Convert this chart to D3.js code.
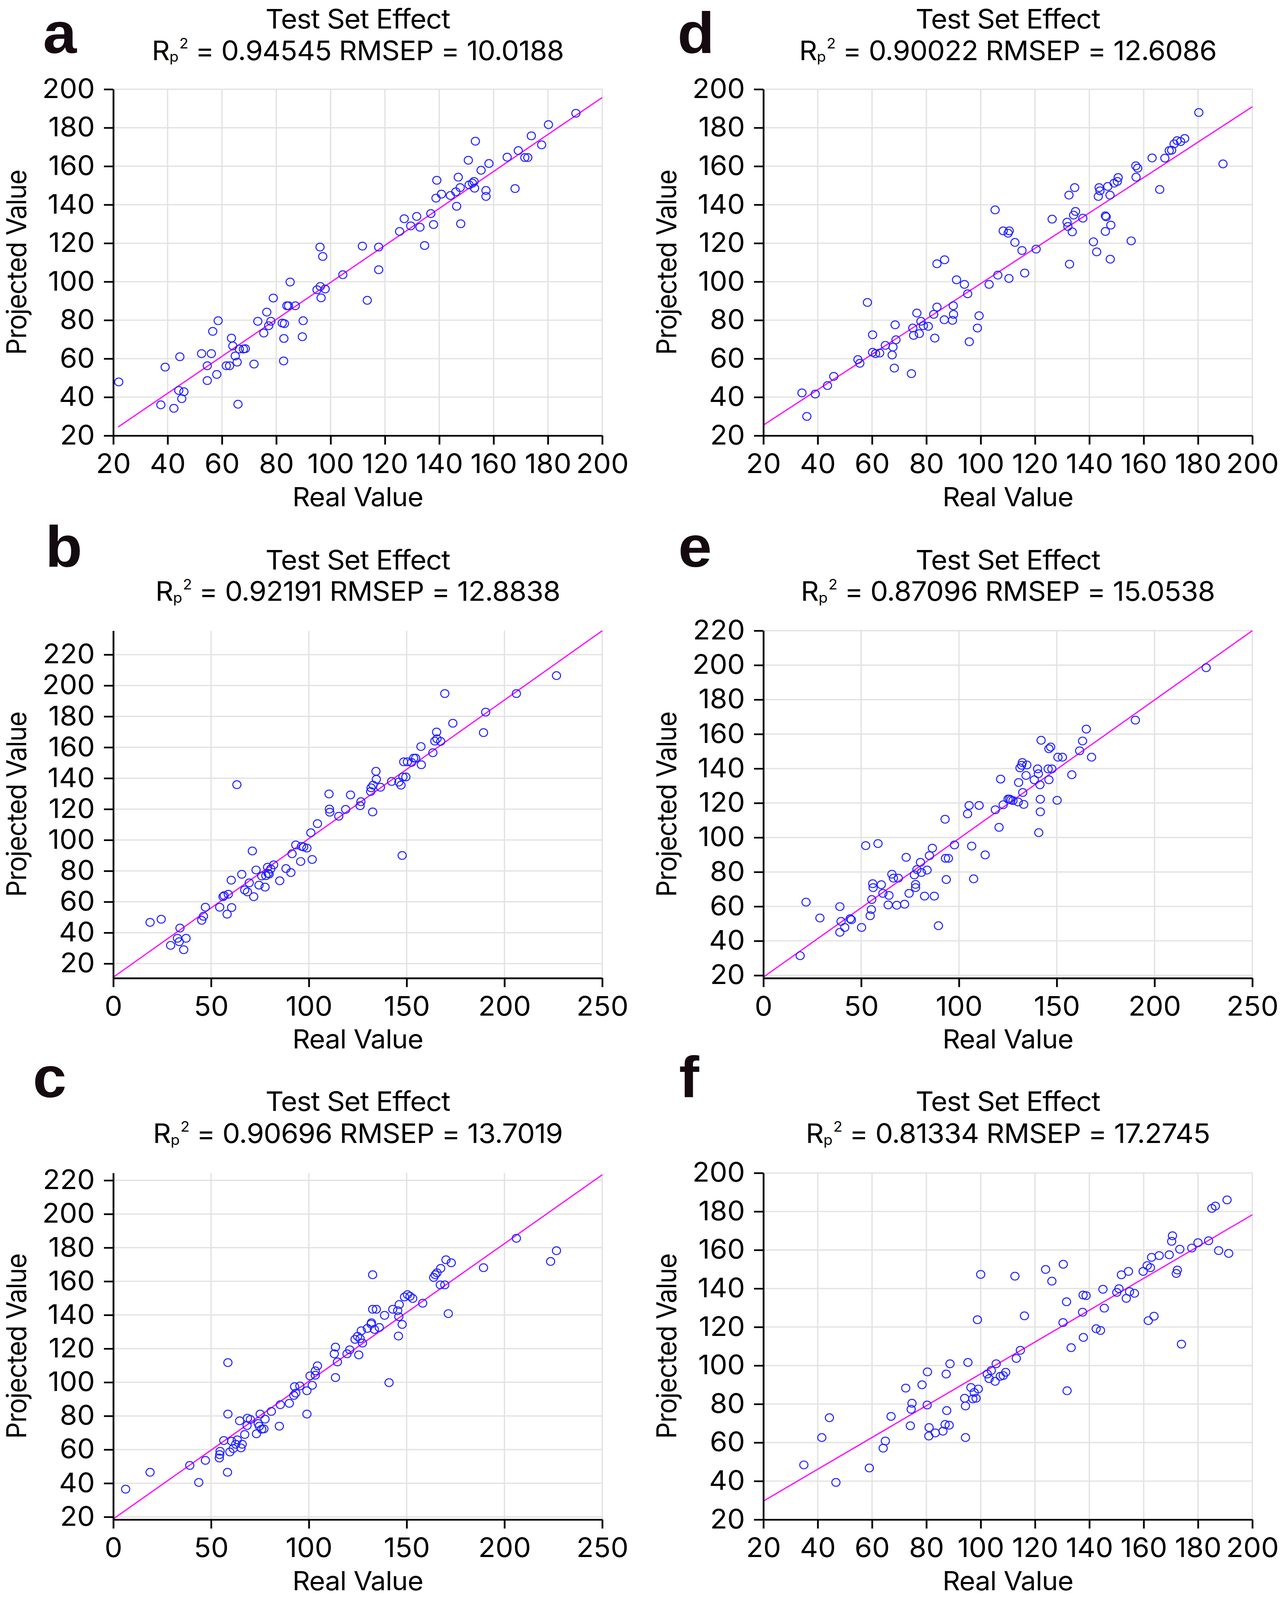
<!DOCTYPE html>
<html>
<head>
<meta charset="utf-8">
<script src="https://cdn.jsdelivr.net/npm/d3@7"></script>
<style>
html, body { margin: 0; padding: 0; background: #fff; overflow: hidden; }
svg { display: block; }
</style>
</head>
<body>
<svg id="chart"></svg>
<script>
// ── Data ───────────────────────────────────────────────────────────────

const PANEL_LETTERS = ['a', 'b', 'c', 'd', 'e', 'f'];
const PANEL_R2 = ['0.94545', '0.92191', '0.90696', '0.90022', '0.87096', '0.81334'];
const PANEL_RMSEP = ['10.0188', '12.8838', '13.7019', '12.6086', '15.0538', '17.2745'];

const TICKS_20_200 = [20, 40, 60, 80, 100, 120, 140, 160, 180, 200];
const TICKS_20_220 = [20, 40, 60, 80, 100, 120, 140, 160, 180, 200, 220];
const TICKS_0_250 = [0, 50, 100, 150, 200, 250];

const X_DOMAINS = [[20, 200], [0, 250], [0, 250], [20, 200], [0, 250], [20, 200]];
const Y_DOMAINS = [[20, 200], [10.6, 235.5], [18.4, 224.4], [20, 200], [18.4, 220], [20, 200]];
const X_TICKS = [TICKS_20_200, TICKS_0_250, TICKS_0_250, TICKS_20_200, TICKS_0_250, TICKS_20_200];
const Y_TICKS = [TICKS_20_200, TICKS_20_220, TICKS_20_220, TICKS_20_200, TICKS_20_220, TICKS_20_200];

// fitted line: [slope, intercept, first x]
const FIT_LINES = [[0.9607, 3.56, 21.8], [0.897, 11.2, 0], [0.818, 18.8, 0], [0.919, 7.1, 20], [0.804, 19, 0], [0.826, 13.1, 20]];

const A_REAL = [22, 37.5, 39.1, 42.3, 44.1, 44.5, 45.2, 46, 52.5, 54.6, 54.6, 56.1, 56.6, 58.1, 58.6, 61.6, 62.8, 63.5, 64, 64.9, 65.6, 65.9, 66.4, 67.9, 68.6, 71.8, 73.2, 75.4, 76.5, 77.2, 78, 78.9, 82.2, 82.8, 82.7, 83, 83.9, 84.5, 85.1, 87, 89.6, 89.9, 95, 96.1, 96.2, 96.5, 97.1, 98, 104.5, 111.7, 113.5, 117.7, 117.7, 125.4, 127.1, 129.5, 131.7, 132.9, 134.6, 136.9, 137.9, 138.8, 139.1, 140.8, 144.1, 146.1, 146.4, 147, 147.7, 147.9, 150.7, 151, 152.2, 152.8, 153, 153.3, 155.4, 157.2, 157.2, 158.3, 165, 167.9, 169.1, 171.5, 172.6, 173.9, 177.7, 180.2, 190.3];
const A_PROJ = [47.9, 36, 55.6, 34.2, 43.5, 61, 39.2, 42.8, 62.6, 48.6, 56.3, 62.6, 74.2, 51.8, 79.7, 56.3, 56.3, 70.7, 66.6, 61.4, 58.2, 36.3, 65, 65, 65.2, 57.2, 79.4, 73.3, 84.2, 77.1, 79.4, 91.5, 78.5, 70.5, 58.8, 78.2, 87.5, 87.5, 99.8, 87.5, 71.4, 79.7, 95.8, 118, 97.5, 91.6, 113.1, 96.2, 103.6, 118.5, 90.3, 118, 106.2, 126.1, 132.7, 129, 133.9, 128.3, 118.8, 135.4, 129.7, 143.4, 152.7, 145.5, 144.8, 146.7, 139.2, 154.3, 148.9, 130.1, 163.1, 150.3, 151.2, 152.1, 148.6, 173, 157.9, 147.4, 144.3, 161.4, 164.7, 148.4, 168.1, 164.5, 164.5, 175.8, 171.1, 181.6, 187.5];

const B_REAL = [18.8, 24.5, 29.3, 32.8, 34.1, 33.7, 36, 37.2, 45.2, 46.1, 47.1, 54.4, 56.1, 56.7, 58.2, 58.8, 60.3, 60.5, 63.2, 65.7, 67.2, 68.6, 69.5, 71.1, 71.8, 73, 74.5, 75.9, 77.6, 78, 79.1, 79.7, 78.9, 80.5, 82, 85.1, 88.3, 90.8, 91.4, 93.3, 95.8, 96.2, 97.3, 99, 101.7, 101, 104.4, 110.3, 110.5, 110.7, 115.3, 118.8, 121.3, 126.2, 126.6, 131.6, 131.8, 132.6, 132.8, 134.5, 134.3, 136.6, 142.3, 146, 147.1, 148.1, 149.6, 147.7, 148.5, 150.4, 152.5, 153.6, 154.6, 157.5, 157.3, 163.4, 164.4, 165.3, 165.5, 167.4, 169.5, 173.6, 189.3, 190.4, 206.1, 226.6];
const B_PROJ = [46.7, 48.7, 31.8, 36.4, 43, 34.2, 29, 36.4, 48, 50.6, 56.5, 56.5, 63.3, 64, 52, 64.9, 74, 56.3, 135.8, 77.8, 67.7, 66.4, 72.3, 92.9, 63.3, 80.6, 70.8, 76.7, 69.5, 76.9, 78.4, 78, 82.4, 81.3, 83.9, 73.6, 81.5, 78.9, 91.1, 96.8, 86.1, 95.9, 95.5, 94.8, 87.4, 104.7, 110.6, 129.8, 120, 118, 115.4, 119.8, 129.2, 122.2, 124.8, 131.4, 133.8, 118.2, 135.5, 139.3, 144.5, 134.2, 137.9, 137.5, 135.5, 140.8, 140.8, 90, 150.6, 150.6, 150.2, 153, 153, 148.7, 160.5, 156.5, 164, 169.9, 165.5, 163.8, 194.8, 175.6, 169.5, 182.8, 194.8, 206.4];

const C_REAL = [6.3, 18.8, 39.1, 43.7, 47.1, 54.2, 54.4, 54.6, 56.5, 58.4, 58.6, 58.6, 59.6, 60.5, 61.3, 62.6, 63.4, 64.6, 65.3, 65.9, 67.2, 68.4, 68.6, 70.1, 73.2, 74.1, 74.7, 75.1, 75.9, 77, 77.6, 80.8, 84.9, 85.4, 90, 92.3, 92.7, 93.3, 95.4, 99, 99, 101.7, 100.6, 103.3, 103.3, 104.4, 113, 113.6, 113.6, 114.6, 119.5, 120.9, 123.6, 124.9, 125.5, 126.2, 126.8, 127.4, 129.9, 131.8, 132, 132.6, 132.6, 133.5, 134.5, 136, 138.7, 141, 142.9, 145.4, 145.8, 146.2, 146, 147.7, 148.9, 150.4, 151.7, 153.1, 158.2, 163.8, 164.6, 165.5, 167.4, 167.2, 169.5, 170.1, 171.3, 172.8, 189.3, 206.1, 223.6, 226.6];
const C_PROJ = [36.5, 46.5, 50.6, 40.5, 53.6, 55, 57, 59, 65.4, 46.5, 81.1, 111.7, 58.6, 65, 60.6, 63.2, 65.8, 77.1, 61, 63.2, 69, 74.3, 78.7, 77.9, 69.4, 75.5, 73.9, 81.1, 72.1, 72.3, 78.1, 82.7, 73.9, 86.7, 87.5, 92.2, 97.4, 93.6, 97.8, 81.1, 95, 98.2, 103.8, 104.2, 106.8, 109.8, 116.9, 120.9, 102.8, 112.1, 116.9, 119.3, 125.5, 127.3, 116.3, 125.9, 130.6, 123.3, 132, 134.6, 135.4, 163.9, 143.4, 131.4, 143.4, 132.6, 139.8, 99.8, 143.4, 142.6, 127.5, 146.2, 139, 134.4, 150.7, 152.1, 151.1, 149.8, 147, 162.3, 163.9, 165.1, 167.7, 157.9, 157.9, 172.8, 140.8, 171, 168.1, 185.6, 171.8, 178.2];

const D_REAL = [34.2, 36, 39.1, 43.6, 45.9, 54.8, 55.5, 58.3, 60.2, 60.2, 61.3, 62.8, 64.9, 67.4, 67.7, 68.2, 68.5, 68.8, 74.5, 75, 75.3, 76.5, 77.4, 78, 78.9, 80.7, 82.7, 83.1, 83.9, 83.9, 86.6, 86.7, 89.6, 89.9, 90, 91.1, 94, 95.2, 95.8, 98.8, 99.4, 103.1, 105.3, 106.3, 108.3, 110.1, 110.5, 110.4, 112.6, 115.2, 116.2, 120.4, 126.3, 131.8, 132.1, 132.5, 132.7, 133.7, 134.2, 134.6, 134.9, 137.6, 141.5, 142.7, 143.3, 143.6, 143.9, 145.9, 146.2, 145.9, 146.8, 147.6, 147.7, 147.9, 149.1, 150.3, 150.6, 155.4, 157.1, 157.2, 157.8, 163.1, 165.9, 167.8, 169.4, 170.3, 171.2, 172.3, 173.6, 175.1, 180.3, 189.2];
const D_PROJ = [42.2, 30, 41.6, 46, 50.8, 59.5, 57.6, 89.2, 72.4, 63.3, 62.6, 62.9, 66.9, 61.9, 66, 55.1, 77.6, 69.8, 52.2, 75.9, 72.1, 83.7, 73, 79.4, 77.1, 76.8, 83, 70.7, 86.8, 109.3, 80.2, 111.4, 79.9, 87.5, 83, 101, 98.6, 93.7, 68.8, 75.9, 82.3, 98.6, 137.3, 103.4, 126.4, 125.2, 126.4, 101.7, 120.4, 116.2, 104.5, 116.9, 132.5, 130.9, 128.7, 145, 109.1, 125.9, 134.6, 148.9, 136.5, 133, 120.7, 115.5, 144.3, 148.9, 147.2, 134.2, 133.7, 126.1, 149.5, 145, 111.7, 129.4, 151.2, 152.1, 154.1, 121.2, 160.2, 154.3, 159, 164.3, 147.9, 164.2, 168.1, 168.3, 171.6, 173.3, 172.8, 174.4, 187.9, 161.2];

const E_REAL = [18.8, 21.8, 28.9, 39.1, 39.1, 39.7, 41.6, 44.4, 45, 50.2, 52.3, 54.6, 55.2, 55.4, 55.9, 56.1, 58.6, 60.3, 61.1, 63.8, 64.2, 65.7, 66.5, 68.2, 69, 72.2, 73, 74.5, 77.2, 77.8, 77.8, 78.5, 80.3, 80.8, 82.4, 83.7, 84.9, 86.4, 87.4, 89.5, 92.9, 93.1, 93.5, 94.6, 97.7, 104.4, 105.2, 106.5, 107.5, 110.3, 113.4, 118.6, 120.5, 121.3, 122.6, 125.1, 125.9, 126.6, 127.6, 130.3, 130.5, 131.2, 132, 132.4, 132.6, 133.1, 134.3, 134.7, 138.5, 140.2, 140.6, 140.8, 141.4, 141.6, 141.6, 142, 145.6, 146, 146, 146.9, 147.5, 150.2, 150.6, 152.9, 157.7, 161.7, 163.2, 165.1, 167.8, 190.2, 226.4];
const E_PROJ = [31.4, 62.5, 53.3, 59.9, 45, 51.3, 47.8, 52.9, 52.3, 47.8, 95.3, 54.6, 58.2, 64, 73.2, 70.9, 96.5, 72.6, 67.6, 60.9, 66.4, 78.7, 76.4, 60.7, 76.4, 61.3, 88.5, 67.6, 78.3, 72.8, 70.9, 81.4, 85.6, 79.7, 66, 81.1, 89.5, 93.8, 66, 48.8, 110.6, 87.9, 75.6, 87.9, 95.7, 113.7, 118.6, 95, 76, 118.6, 89.9, 116.1, 105.9, 133.9, 119, 122.3, 122.3, 121.8, 121.4, 120.6, 131.9, 140.4, 141.9, 143.5, 126.1, 119.2, 136, 142.1, 133.5, 139.8, 137, 102.8, 130.6, 122.2, 114.9, 156.4, 139.8, 133.5, 151.5, 152.5, 139.8, 121.6, 146.6, 146.6, 136.4, 150.3, 156, 162.9, 146.6, 168.1, 198.5];

const F_REAL = [34.9, 41.5, 44.3, 46.7, 59, 64.1, 64.9, 67, 72.4, 74.1, 74.4, 74.7, 78.4, 80.3, 80.4, 80.9, 81, 83.3, 86.1, 86.9, 87.3, 87.5, 88.4, 88.7, 94.4, 94.1, 94.4, 95.3, 96.4, 97.1, 97.6, 98.3, 98.8, 99.1, 100, 102.4, 103.1, 103.9, 105.3, 105.7, 107.2, 108.3, 109.2, 112.6, 113.1, 114.6, 116.1, 123.9, 126.2, 130.3, 130.4, 131.6, 131.8, 133.3, 137.5, 137.7, 137.8, 138.8, 142.5, 144.1, 145, 145.5, 150.1, 150.9, 151.8, 153.6, 154.4, 154.8, 156.6, 159.8, 161.3, 161.7, 162.5, 162.9, 163.8, 165.7, 169.4, 170.3, 170.6, 172, 172.4, 173.3, 173.9, 177.7, 180, 183.9, 185.1, 186.4, 187.6, 190.7, 191.3];
const F_PROJ = [48.4, 62.6, 72.9, 39.3, 46.8, 57.1, 60.8, 73.6, 88.3, 68.7, 77.3, 80.4, 90, 79.5, 96.7, 63.4, 67.8, 65, 65.9, 69.4, 95.6, 76.6, 69, 100.9, 62.6, 83, 79, 101.6, 88.6, 82.7, 86, 83, 123.8, 87.8, 147.3, 95.6, 93.2, 97.4, 91.8, 100.9, 94.4, 94.8, 96.5, 146.4, 103.7, 107.9, 125.8, 149.9, 143.8, 122.3, 152.6, 133.1, 86.9, 109.3, 127.7, 136.6, 114.6, 136.3, 119.1, 118.2, 139.6, 129.8, 138, 139.9, 147.1, 134.9, 148.9, 138.4, 137.5, 148.9, 151.9, 123.3, 150.8, 156.2, 125.6, 157.1, 157.5, 164.5, 167.4, 147.8, 149.6, 160.4, 111.1, 161, 163.8, 164.8, 181.6, 182.8, 159.7, 186, 158.2];

const REAL_VALUES = [A_REAL, B_REAL, C_REAL, D_REAL, E_REAL, F_REAL];
const PROJ_VALUES = [A_PROJ, B_PROJ, C_PROJ, D_PROJ, E_PROJ, F_PROJ];

// ── Layout ─────────────────────────────────────────────────────────────

const WIDTH = 3284;
const HEIGHT = 4290;
const FONT = 'Inter, "Liberation Sans", Arial, sans-serif';

const COLUMNS = [
	{left: 290, right: 1541.5, letterX: [110, 116, 84]},
	{left: 1954, right: 3205.5, letterX: [1734, 1736, 1738]}
];
const ROWS = [
	{top: 239.3, bottom: 1168, title: 76, subtitle: 161, letter: 142},
	{top: 1691, bottom: 2622.6, title: 1527, subtitle: 1611, letter: 1520},
	{top: 3145, bottom: 4074.4, title: 2979, subtitle: 3065, letter: 2942}
];

// the drawing is laid out in reference pixels and stretched to whatever the viewport is
const viewWidth = window.innerWidth || WIDTH;
const viewHeight = window.innerHeight || HEIGHT;

const svg = d3.select('#chart')
.attr('width', viewWidth)
.attr('height', viewHeight)
.attr('viewBox', `0 0 ${WIDTH} ${HEIGHT}`)
.attr('preserveAspectRatio', 'none')
.style('background', '#fff');

/**
 * Draws one scatter panel (grid, fitted line, points, axes, titles).
 */
function drawPanel(index)
{
	const col = COLUMNS[Math.floor(index / 3)];
	const row = ROWS[index % 3];
	const [slope, intercept, lineStart] = FIT_LINES[index];
	const points = REAL_VALUES[index].map((real, i) => ({real, proj: PROJ_VALUES[index][i]}));

	const x = d3.scaleLinear().domain(X_DOMAINS[index]).range([col.left, col.right]);
	const y = d3.scaleLinear().domain(Y_DOMAINS[index]).range([row.bottom, row.top]);

	const g = svg.append('g');

	// grid
	g.append('g')
	.selectAll('line')
	.data(X_TICKS[index])
	.join('line')
	.attr('x1', (d) => x(d)).attr('x2', (d) => x(d))
	.attr('y1', row.top).attr('y2', row.bottom)
	.attr('stroke', '#e3e3e3').attr('stroke-width', 3.5);

	g.append('g')
	.selectAll('line')
	.data(Y_TICKS[index])
	.join('line')
	.attr('x1', col.left).attr('x2', col.right)
	.attr('y1', (d) => y(d)).attr('y2', (d) => y(d))
	.attr('stroke', '#e3e3e3').attr('stroke-width', 3.5);

	// fitted line
	const xEnd = X_DOMAINS[index][1];
	g.append('path')
	.datum([lineStart, xEnd])
	.attr('d', d3.line().x((d) => x(d)).y((d) => y(slope * d + intercept)))
	.attr('fill', 'none')
	.attr('stroke', '#ff00ff')
	.attr('stroke-width', 3.2);

	// points
	g.append('g')
	.selectAll('circle')
	.data(points)
	.join('circle')
	.attr('cx', (d) => x(d.real))
	.attr('cy', (d) => y(d.proj))
	.attr('r', 10.5)
	.attr('fill', 'none')
	.attr('stroke', '#2323ff')
	.attr('stroke-width', 2.6);

	// axes
	const yAxis = g.append('g')
	.attr('transform', `translate(${col.left},0)`)
	.call(d3.axisLeft(y).tickValues(Y_TICKS[index]).tickSize(24).tickPadding(23).tickSizeOuter(0));

	const xAxis = g.append('g')
	.attr('transform', `translate(0,${row.bottom})`)
	.call(d3.axisBottom(x).tickValues(X_TICKS[index]).tickSize(24).tickPadding(25).tickSizeOuter(0));

	[xAxis, yAxis].forEach((axis) =>
	{
		axis.selectAll('path, line').attr('stroke', '#000').attr('stroke-width', 4.5);
		axis.selectAll('text')
		.attr('fill', '#000')
		.style('font-family', FONT)
		.style('font-size', '72px');
	});

	const centerX = (col.left + col.right) / 2;

	// axis titles
	g.append('text')
	.attr('x', centerX)
	.attr('y', row.bottom + 189)
	.attr('text-anchor', 'middle')
	.style('font-family', FONT)
	.style('font-size', '70px')
	.style('letter-spacing', '-1px')
	.text('Real Value');

	g.append('text')
	.attr('transform', `translate(${col.left - 223},${(row.top + row.bottom) / 2}) rotate(-90)`)
	.attr('text-anchor', 'middle')
	.style('font-family', FONT)
	.style('font-size', '70px')
	.style('letter-spacing', '-1.5px')
	.text('Projected Value');

	// titles
	g.append('text')
	.attr('x', centerX)
	.attr('y', row.title)
	.attr('text-anchor', 'middle')
	.style('font-family', FONT)
	.style('font-size', '72px')
	.style('letter-spacing', '-1.5px')
	.text('Test Set Effect');

	const sub = g.append('text')
	.attr('x', centerX)
	.attr('y', row.subtitle)
	.attr('text-anchor', 'middle')
	.style('font-family', FONT)
	.style('font-size', '72px')
	.style('letter-spacing', '-1px');
	sub.append('tspan').text('R');
	sub.append('tspan').attr('dy', 5).style('font-size', '38px').text('p');
	sub.append('tspan').attr('dy', -36).attr('dx', 3).style('font-size', '38px').text('2');
	sub.append('tspan').attr('dy', 31).text(` = ${PANEL_R2[index]} RMSEP = ${PANEL_RMSEP[index]}`);

	// panel letter
	g.append('text')
	.attr('x', col.letterX[index % 3])
	.attr('y', row.letter)
	.style('font-family', '"Liberation Sans", Arial, sans-serif')
	.style('font-weight', 700)
	.style('font-size', '155px')
	.attr('fill', '#140a10')
	.text(PANEL_LETTERS[index]);
}

PANEL_LETTERS.forEach((letter, i) => drawPanel(i));
</script>
</body>
</html>
